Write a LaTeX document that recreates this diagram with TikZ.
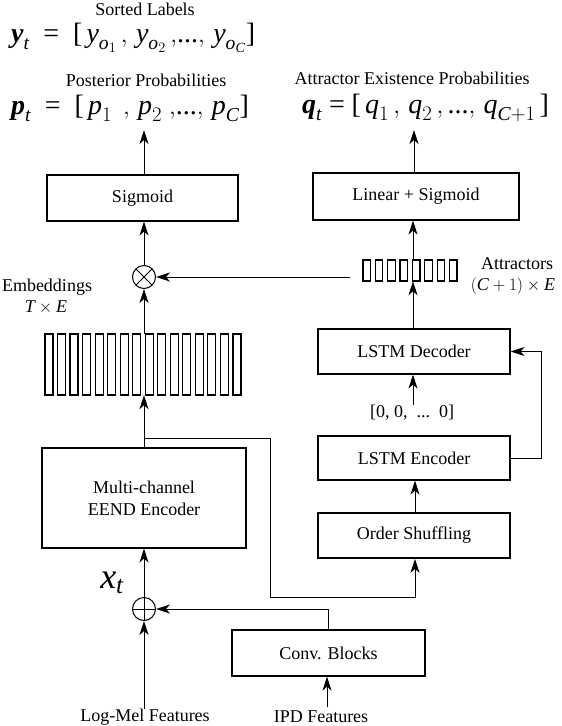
\documentclass[tikz,border=0pt]{standalone}
\usepackage{amsmath}
\usepackage{fontspec}
\setmainfont{Liberation Serif}
\usetikzlibrary{arrows.meta,calc}
\newcommand{\ivar}[1]{\textit{#1}}
\newcommand{\bvar}[1]{\textbf{\textit{#1}}}
\newcommand{\req}{\mathrel{\textrm{=}}}
\newcommand{\lbk}{\mathopen{\textrm{[}}}
\newcommand{\rbk}{\mathclose{\textrm{]}}}
\begin{document}
\begin{tikzpicture}[x=1pt,y=-1pt,
  box/.style={draw, line width=1.1pt, inner sep=0, font=\fontsize{18}{22}\selectfont, align=center},
  lbl/.style={font=\fontsize{18}{22}\selectfont, inner sep=0, align=center},
  eqn/.style={font=\fontsize{28}{30}\selectfont, inner sep=0, anchor=west},
  arr/.style={line width=1pt, -{Stealth[length=14pt,width=9pt,inset=4pt]}},
  ln/.style={line width=1pt},
  bar/.style={line width=1.2pt},
  opcirc/.style={circle, draw, line width=1pt, minimum size=23, inner sep=0}
]
\useasboundingbox (0,0) rectangle (562,726);

% top labels and equations
\node[lbl] (sortlbl) at (145,9) {Sorted Labels};
\node[eqn] (yeq) at (11,38) {$\bvar{y}_{\ivar{t}} \;\req\; \lbk\,\ivar{y}_{\ivar{o}_1}\,,\,\ivar{y}_{\ivar{o}_2}\,,\!\textrm{...},\,\ivar{y}_{\ivar{o}_{\ivar{C}}}\rbk$};
\node[lbl] (postlbl) at (146,80) {Posterior Probabilities};
\node[eqn] (peq) at (11,108) {$\bvar{p}_{\ivar{t}} \;\req\; \lbk\,\ivar{p}_1\;\,,\,\ivar{p}_2\;,\!\textrm{...},\,\ivar{p}_{\ivar{C}}\rbk$};
\node[lbl] (attlbl) at (412,78) {Attractor Existence Probabilities};
\node[eqn] (qeq) at (302,108) {$\bvar{q}_{\ivar{t}} \req \lbk\,\ivar{q}_1\,,\,\ivar{q}_2\,,\textrm{...},\,\ivar{q}_{\ivar{C}{+}1}\,\rbk$};
\coordinate (ptip) at (144,130);
\coordinate (qtip) at (414,130);

% left column
\node[box, minimum width=191, minimum height=46] (sig) at (142.5,198) {Sigmoid};
\node[opcirc, path picture={\draw[line width=1pt] (path picture bounding box.north west) -- (path picture bounding box.south east) (path picture bounding box.north east) -- (path picture bounding box.south west);}] (mul) at (144,277) {};
\node[lbl] (emblbl) at (47,287) {Embeddings};
\node[lbl] (embdim) at (46,307) {$\ivar{T}\times\ivar{E}$};
\node[minimum width=196, minimum height=61, inner sep=0] (emb) at (143,364.5) {};
\foreach \i in {0,...,15} \draw[bar] (45+\i*12.53,334) rectangle ++(8,61);
\node[box, minimum width=204, minimum height=100] (mce) at (144,498) {Multi-channel\\EEND Encoder};
\node[opcirc, path picture={\draw[line width=1pt] (path picture bounding box.north) -- (path picture bounding box.south) (path picture bounding box.east) -- (path picture bounding box.west);}] (add) at (144,609) {};
\node[font=\fontsize{36}{38}\selectfont, inner sep=0] (xt) at (112,583) {$\ivar{x}_{\ivar{t}}$};
\node[lbl] (logmel) at (145,717) {Log-Mel Features};

% right column
\node[box, minimum width=206, minimum height=47] (lin) at (416,196.5) {Linear + Sigmoid};
\node[minimum width=94, minimum height=21, inner sep=0] (att) at (410,270.5) {};
\foreach \i in {0,...,7} \draw[bar] (363+\i*12.36,260) rectangle ++(7.5,21);
\node[lbl, anchor=west] (attlbl2) at (481,264) {Attractors};
\node[lbl] (attdim) at (513,286) {$(\ivar{C} + 1)\times\ivar{E}$};
\node[box, minimum width=192, minimum height=45] (dec) at (414,351.5) {LSTM Decoder};
\node[lbl] (zeros) at (412,413) {[0, 0,\ \ ...\ \ 0]};
\node[box, minimum width=192, minimum height=44] (enc) at (414,458) {LSTM Encoder};
\node[box, line width=1.7pt, minimum width=192, minimum height=45] (shuf) at (414,535.5) {Order Shuffling};
\node[box, minimum width=193, minimum height=46] (conv) at (328.5,653) {Conv. Blocks};
\node[lbl] (ipd) at (321,717) {IPD Features};

% connectors
\draw[arr] (sig.north -| ptip) -- (ptip);
\draw[arr] (lin.north -| qtip) -- (qtip);
\draw[arr] (mul.north) -- (mul.north |- sig.south);
\draw[arr] (emb.north -| mul) -- (mul.south);
\coordinate (attend) at (350,277);
\draw[arr] (attend) -- (mul.east);
\draw[arr] (att.north -| 413,0) -- (lin.south -| 413,0);
\draw[arr] (dec.north -| 413,0) -- (att.south -| 413,0);
\coordinate (zstart) at (413,405);
\draw[arr] (zstart) -- (dec.south -| zstart);
\coordinate (fb) at (541,458);
\draw[arr] (enc.east) -- (fb) |- (dec.east);
\draw[arr] (shuf.north -| 415,0) -- (enc.south -| 415,0);
\draw[arr] (mce.north -| mul) -- (emb.south -| mul);
\coordinate (branch) at (144,438);
\coordinate (rt1) at (270,438);
\coordinate (rt2) at (270,597);
\draw[arr] (branch) -- (rt1) -- (rt2) -| (shuf.south -| 415,0);
\draw[arr] (add.north) -- (mce.south -| add);
\draw[arr] (logmel.north -| add) -- (add.south);
\draw[arr] (conv.north) |- (add.east);
\coordinate (ipdstart) at (327,707);
\draw[arr] (ipdstart) -- (conv.south -| ipdstart);
\end{tikzpicture}
\end{document}
